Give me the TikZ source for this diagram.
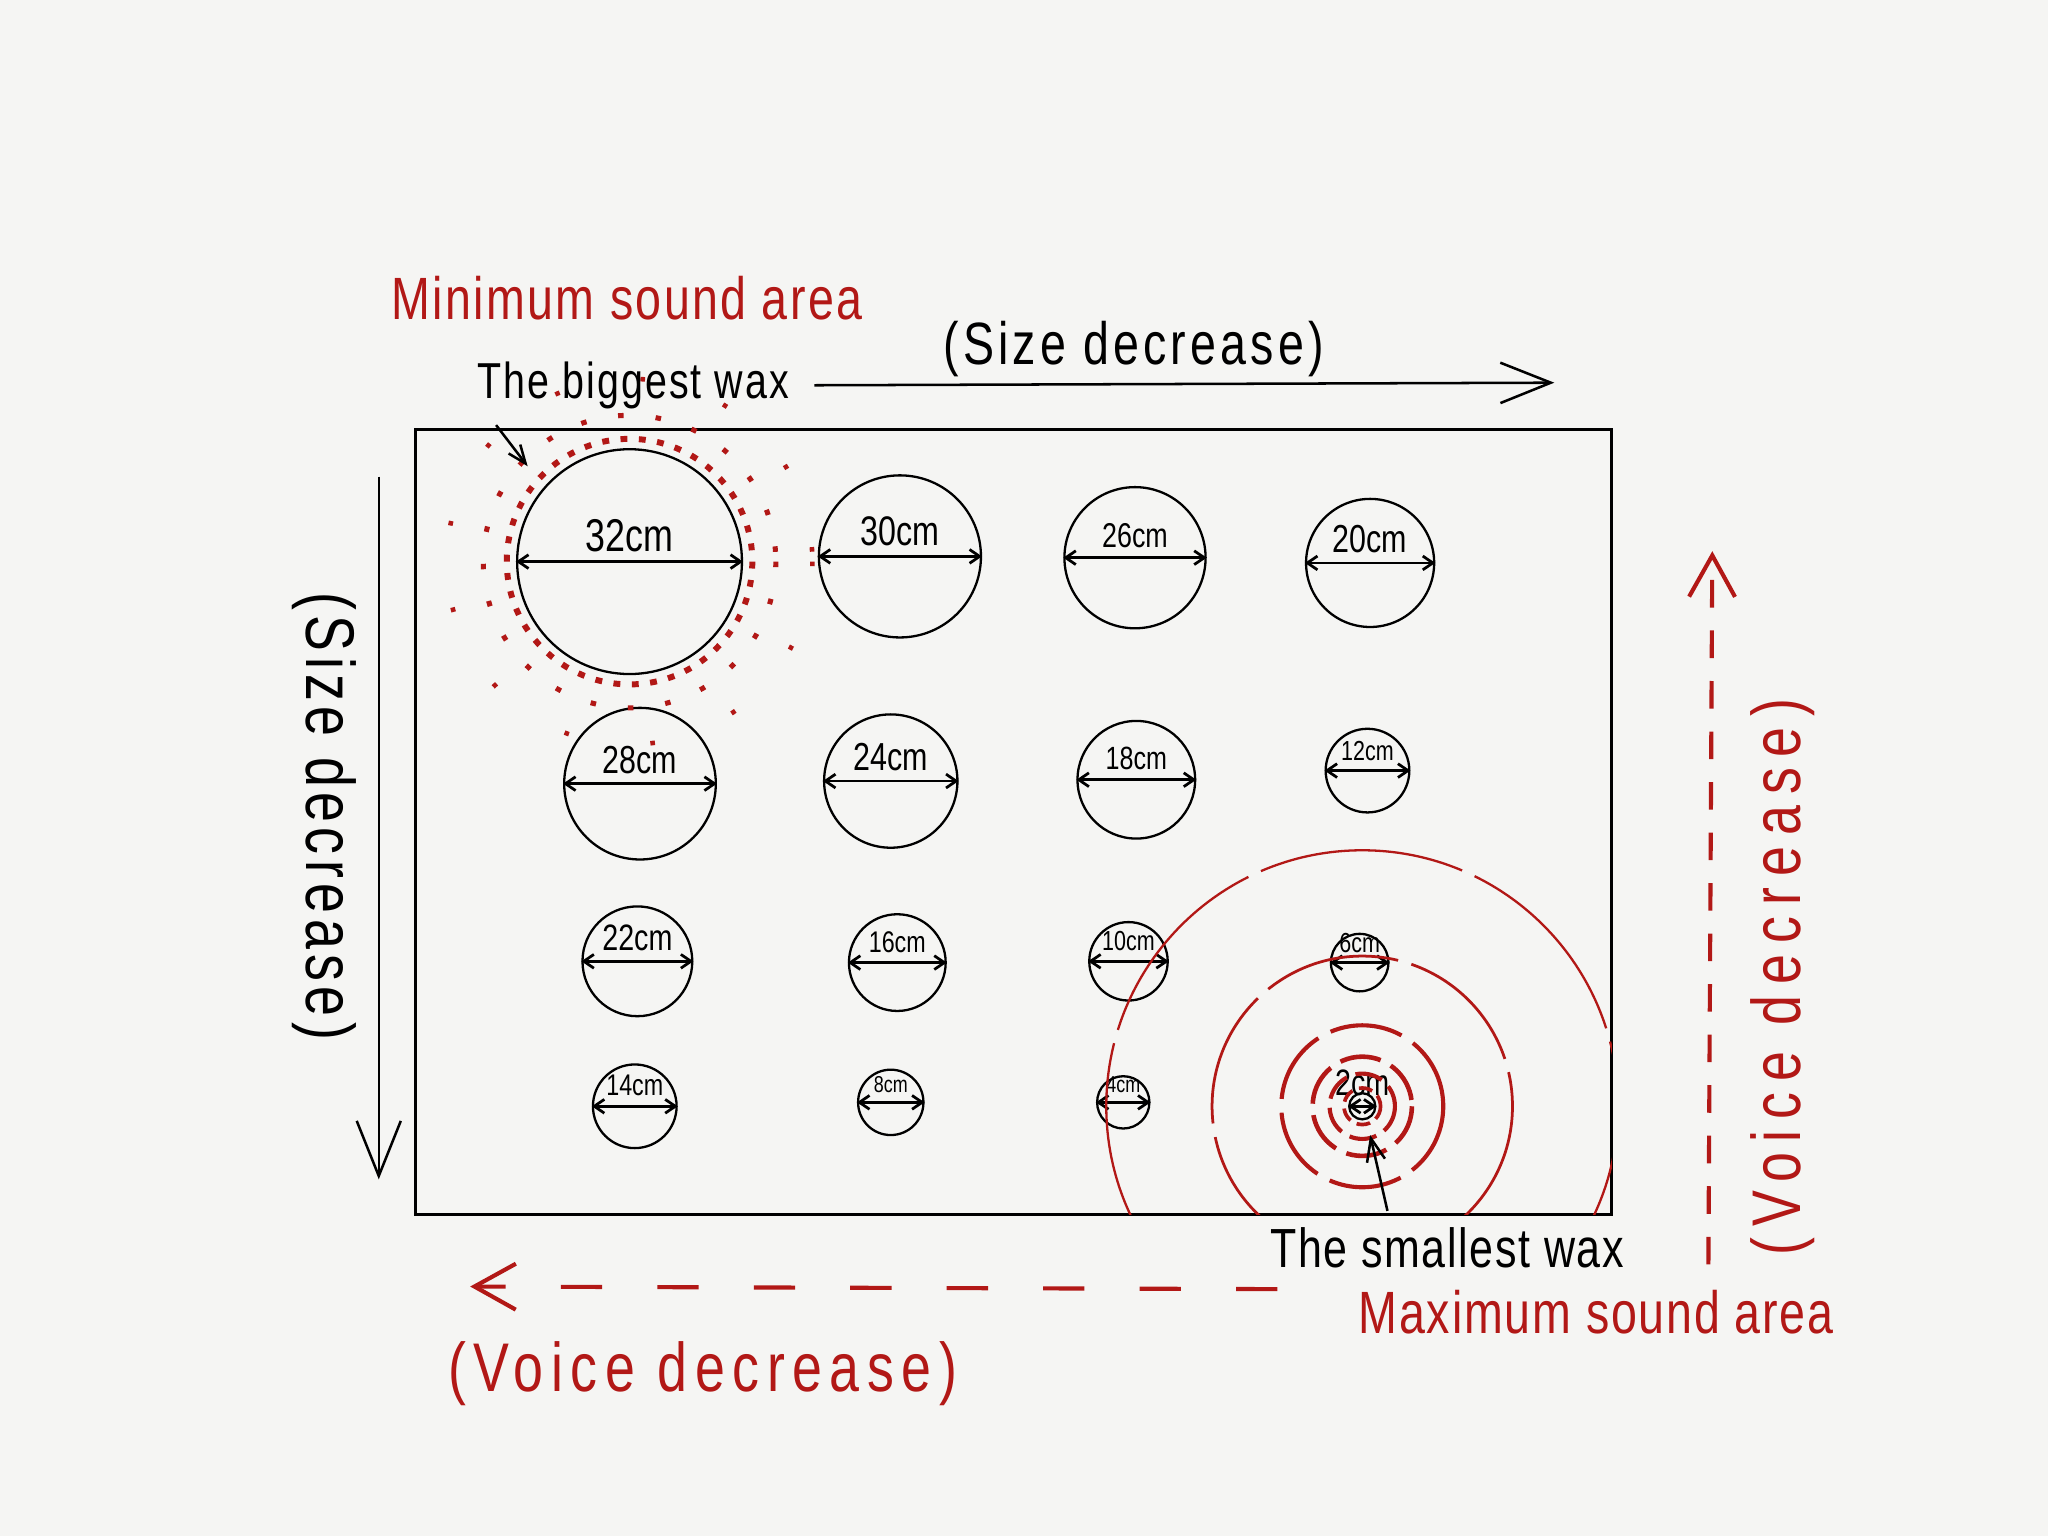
\documentclass[tikz,border=0pt]{standalone}
\usepackage{fontspec}
\newfontfamily\hand[FakeStretch=0.78]{Liberation Sans}
\usepackage{tikz}
\usetikzlibrary{arrows.meta}
\definecolor{inkred}{RGB}{178,24,22}
\definecolor{paper}{RGB}{245,245,243}
\newcommand{\fsz}[1]{\fontsize{#1}{#1}\selectfont}
\newcommand{\ls}[1]{\addfontfeature{LetterSpace=#1}}

\begin{document}
\begin{tikzpicture}[x=0.01cm,y=-0.01cm,
  wax/.style={draw,circle,inner sep=0pt,line width=0.5pt},
  dim/.style={{Straight Barb[length=2.2pt,width=3pt]}-{Straight Barb[length=2.2pt,width=3pt]},line width=0.6pt},
  arr/.style={line width=0.55pt,-{Straight Barb[length=#1,width=0.8*#1]}},
  redarr/.style={inkred,line width=0.9pt,-{Straight Barb[length=9pt,width=10pt]}},
  ring/.style={inkred,line width=#1}]
\fill[paper] (0,0) rectangle (1568,1176);
\useasboundingbox (0,0) rectangle (1568,1176);
% the board
\coordinate (boxnw) at (318,329);
\coordinate (boxse) at (1234,930);
\draw[line width=0.7pt] (boxnw) rectangle (boxse);
% the waxes
\foreach \n/\cx/\cy/\r/\fs in {32/482/430/86/10, 30/689/426/62/9, 26/869/427/54/7.5, 20/1049/431/49/8.5,
    28/490/600/58/8.5, 24/682/598/51/8.5, 18/870/597/45/7, 12/1047/590/32/6,
    22/488/736/42/8, 16/687/737/37/6.5, 10/864/736/30/6, 6/1041/737/22/6,
    14/486/847/32/6.5, 8/682/844/25/5, 4/860/844/20/5, 2/1043/847/10/8}{
  \node[wax,minimum size=\r*0.02cm] (w\n) at (\cx,\cy) {};
  \draw[dim] (w\n.west) -- (w\n.east);
  \node[font=\hand\fsz{\fs},anchor=south,inner sep=1pt,yshift=1pt] (l\n) at (w\n.center) {\n cm};
}
% sound around the smallest wax
\begin{scope}
\clip (boxnw) rectangle (boxse);
\draw[ring=0.8pt,dash pattern=on 3pt off 1.5pt] (w2.center) circle (14);
\draw[ring=0.9pt,dash pattern=on 6pt off 2pt] (w2.center) circle (25);
\draw[ring=1pt,dash pattern=on 9pt off 2.5pt] (w2.center) circle (38);
\draw[ring=0.9pt,dash pattern=on 16pt off 3pt] (w2.center) circle (62);
\draw[ring=0.6pt,dash pattern=on 30pt off 3pt] (w2.center) circle (115);
\draw[ring=0.5pt,dash pattern=on 45pt off 3pt] (w2.center) circle (196);
\end{scope}
% sound around the biggest wax
\draw[ring=1.3pt,dash pattern=on 1.5pt off 2.5pt] (w32.center) circle (94);
\draw[ring=1.1pt,dash pattern=on 1.2pt off 7pt] (w32.center) circle (112);
\draw[ring=1pt,dash pattern=on 1pt off 18pt] (w32.center) circle (140);
% labels
\node[font=\hand\fsz{13}\ls{4},inkred] (minarea) at (480,228) {Minimum sound area};
\node[font=\hand\fsz{11}\ls{4}] (biggest) at (485,295) {The biggest wax};
\node[font=\hand\fsz{13}\ls{7}] (sizetop) at (868,267) {(Size decrease)};
\node[font=\hand\fsz{15}\ls{8},rotate=-90] (sizeleft) at (248,625) {(Size decrease)};
\node[font=\hand\fsz{12}\ls{3}] (smallest) at (1108,955) {The smallest wax};
\node[font=\hand\fsz{13}\ls{3},inkred] (maxarea) at (1222,1005) {Maximum sound area};
\node[font=\hand\fsz{15}\ls{11},inkred] (voicebot) at (538,1052) {(Voice decrease)};
\node[font=\hand\fsz{15}\ls{16},inkred,rotate=90] (voiceright) at (1365,748) {(Voice decrease)};
% arrows
\coordinate (bigtip) at (404,357);
\coordinate (sizetip) at (1190,293);
\coordinate (leftstart) at (290,365);
\coordinate (lefttip) at (290,903);
\coordinate (smalltip) at (1049,869);
\coordinate (vbstart) at (978,987);
\coordinate (vbtip) at (360,985);
\coordinate (vrstart) at (1308,968);
\coordinate (vrtip) at (1311,422);
\draw[arr=4pt] ([xshift=7.5pt]biggest.south west) -- (bigtip);
\draw[arr=11pt,shorten <=2pt] (biggest.east) -- (sizetip);
\draw[arr=12pt] (leftstart) -- (lefttip);
\draw[arr=5pt] ([xshift=-13pt]smallest.north) -- (smalltip);
\draw[redarr,dash pattern=on 9pt off 12pt] (vbstart) -- (vbtip);
\draw[redarr,dash pattern=on 6pt off 5pt] (vrstart) -- (vrtip);
\end{tikzpicture}
\end{document}
